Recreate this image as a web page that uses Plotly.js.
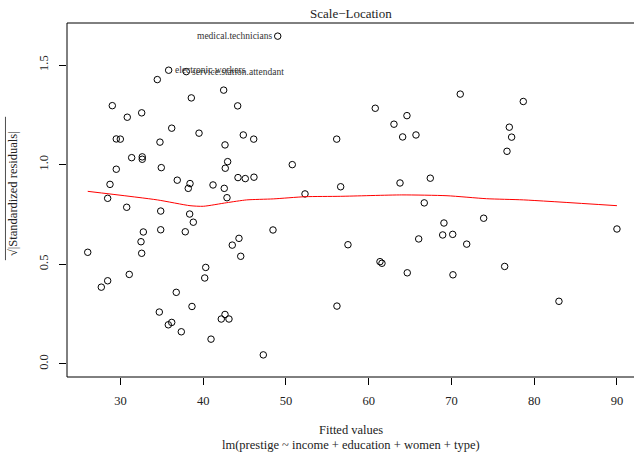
<!DOCTYPE html>
<html>
<head>
<meta charset="utf-8">
<script src="https://cdn.plot.ly/plotly-3.0.1.min.js"></script>
<style>html,body{margin:0;padding:0;background:#fff;}#plot{width:634px;height:454px;}</style>
</head>
<body>
<div id="plot"></div>
<script>
// Fitted values (x) and sqrt(|standardized residuals|) (y)
const fitted = [49.00,35.82,37.95,34.45,42.47,38.56,44.16,29.01,30.82,32.56,
  36.19,39.49,44.84,46.10,29.49,29.98,34.77,42.63,31.35,32.63,
  32.63,29.49,34.93,42.95,42.66,28.73,36.86,38.40,38.19,41.18,
  42.54,44.20,45.08,46.13,28.45,42.87,60.79,64.62,63.05,64.10,
  65.71,56.13,50.76,52.30,56.61,63.78,67.44,71.06,78.68,76.99,
  77.27,76.71,30.75,34.86,38.36,38.80,32.76,34.86,37.83,32.48,
  32.56,26.04,43.51,44.32,44.53,40.30,40.18,31.06,28.45,27.68,
  36.74,38.64,34.69,42.63,42.18,43.11,36.19,35.78,37.35,40.94,
  66.71,48.43,57.49,61.36,61.60,64.66,66.04,69.09,68.94,56.16,
  47.26,70.15,71.84,73.89,70.18,76.43,82.99,90.00];
const sqrtStdRes = [1.645,1.474,1.467,1.427,1.374,1.335,1.295,1.296,1.238,1.260,
  1.183,1.158,1.149,1.128,1.129,1.128,1.113,1.099,1.035,1.039,
  1.027,0.977,0.985,1.015,0.982,0.901,0.922,0.905,0.881,0.898,
  0.881,0.935,0.930,0.937,0.831,0.834,1.283,1.246,1.203,1.139,
  1.149,1.128,1.000,0.853,0.889,0.908,0.932,1.354,1.317,1.188,
  1.138,1.067,0.786,0.767,0.752,0.711,0.662,0.673,0.663,0.613,
  0.555,0.560,0.596,0.630,0.540,0.484,0.431,0.449,0.417,0.385,
  0.359,0.288,0.260,0.248,0.225,0.225,0.208,0.196,0.161,0.124,
  0.808,0.672,0.598,0.513,0.505,0.457,0.627,0.707,0.647,0.290,
  0.045,0.650,0.601,0.731,0.447,0.489,0.314,0.677];
// Smoother (red line)
const smoothX = [26.04,34.45,38.40,40.01,42.84,45.25,48.46,52.30,56.61,63.99,69.46,74.24,78.72,90.00];
const smoothY = [0.866,0.823,0.794,0.791,0.809,0.823,0.828,0.839,0.841,0.848,0.844,0.829,0.823,0.794];
// Labelled observations (index into arrays) and their names
const labelIdx = [0, 1, 2];
const labelText = ["medical.technicians", "electronic.workers", "service.station.attendant"];
const labelSide = ["left", "right", "right"];
// Axis ticks
const xTicks = [30, 40, 50, 60, 70, 80, 90];
const yTicks = [0.0, 0.5, 1.0, 1.5];
const yTickText = ["0.0", "0.5", "1.0", "1.5"];

const serif = "Liberation Serif, Times New Roman, serif";

const traces = [
  {x: fitted, y: sqrtStdRes, type: "scatter", mode: "markers",
   marker: {symbol: "circle-open", size: 6.5, color: "#000", line: {width: 1, color: "#000"}},
   hoverinfo: "skip", cliponaxis: false},
  {x: smoothX, y: smoothY, type: "scatter", mode: "lines",
   line: {color: "#ff0000", width: 1, shape: "spline", smoothing: 0.6}, hoverinfo: "skip"}
];

const annotations = labelIdx.map((k, i) => ({
  x: fitted[k], y: sqrtStdRes[k], xref: "x", yref: "y",
  text: labelText[i], showarrow: false,
  xanchor: labelSide[i] === "left" ? "right" : "left",
  xshift: labelSide[i] === "left" ? -4 : 4, yanchor: "middle",
  font: {family: serif, size: 9.5, color: "#333"}
}));
annotations.push(
  {text: "Scale\u2212Location", xref: "paper", yref: "paper", x: 0.5, y: 1, yanchor: "middle", yshift: 10,
   showarrow: false, font: {family: serif, size: 13, color: "#222"}},
  {text: "Fitted values", xref: "paper", yref: "paper", x: 0.5, y: 0, yanchor: "middle", yshift: -53,
   showarrow: false, font: {family: serif, size: 12.5, color: "#222"}},
  {text: "lm(prestige ~ income + education + women + type)", xref: "paper", yref: "paper", x: 0.5, y: 0,
   yanchor: "middle", yshift: -68, showarrow: false, font: {family: serif, size: 12.5, color: "#222"}},
  {text: "\u221A|Standardized residuals|", xref: "paper", yref: "paper", x: 0, y: 0.5, xanchor: "center",
   yanchor: "middle", xshift: -54, yshift: 6, textangle: -90, showarrow: false,
   font: {family: serif, size: 12.5, color: "#222"}}
);

const layout = {
  width: 634, height: 454,
  margin: {l: 67, r: 0, t: 23, b: 77, pad: 0},
  paper_bgcolor: "#fff", plot_bgcolor: "#fff",
  showlegend: false,
  xaxis: {range: [23.535, 92.06], tickvals: xTicks, ticktext: xTicks.map(String),
    ticks: "outside", ticklen: 7, tickcolor: "#000", tickwidth: 1, ticklabelstandoff: 5,
    showgrid: false, zeroline: false, showline: false,
    tickfont: {family: serif, size: 12.5, color: "#222"}},
  yaxis: {range: [-0.066, 1.711], tickvals: yTicks, ticktext: yTickText, tickangle: -90,
    ticks: "outside", ticklen: 7, tickcolor: "#000", tickwidth: 1, ticklabelstandoff: 6,
    showgrid: false, zeroline: false, showline: false,
    tickfont: {family: serif, size: 12.5, color: "#222"}},
  shapes: [
    {type: "rect", xref: "paper", yref: "paper", x0: 0, x1: 1.02, y0: 0, y1: 1,
     line: {color: "#000", width: 1}, fillcolor: "rgba(0,0,0,0)"},
    {type: "line", xref: "paper", yref: "paper", x0: -0.1085, x1: -0.1085, y0: 0.33, y1: 0.735,
     line: {color: "#222", width: 0.8}}
  ],
  annotations: annotations
};

Plotly.newPlot("plot", traces, layout, {staticPlot: true, displayModeBar: false});
</script>
</body>
</html>
